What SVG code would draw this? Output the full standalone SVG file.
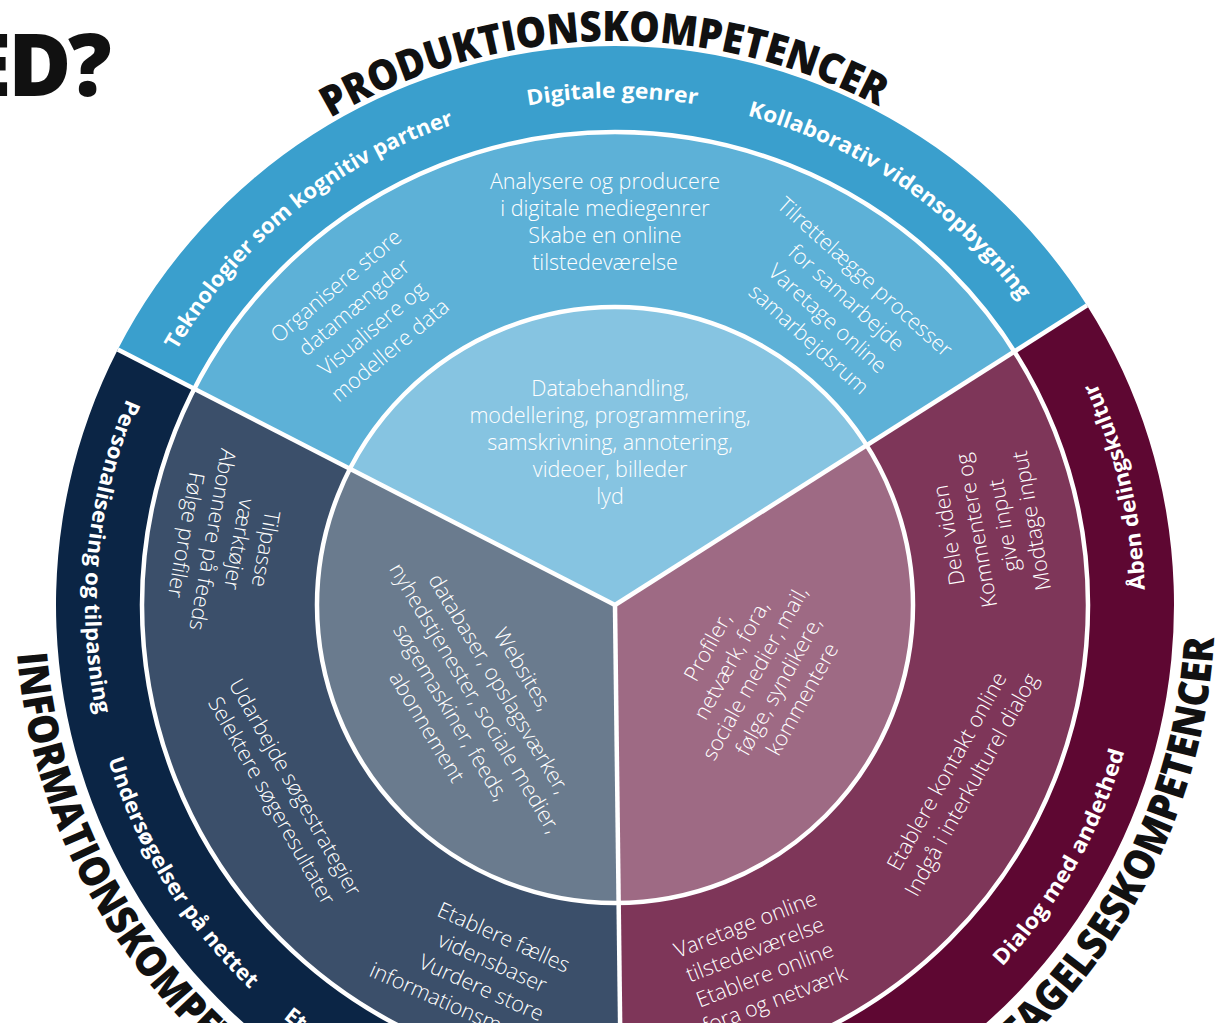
<svg xmlns="http://www.w3.org/2000/svg" xmlns:xlink="http://www.w3.org/1999/xlink" width="1230" height="1028" viewBox="0 0 1230 1028">
<defs>
<style>
.title{font-family:"Open Sans","DejaVu Sans",sans-serif;font-weight:800;font-size:42px;fill:#111;}
.band{font-family:"Open Sans","DejaVu Sans",sans-serif;font-weight:700;font-size:21.5px;fill:#fff;}
.body{font-family:"Open Sans","DejaVu Sans",sans-serif;font-weight:300;font-size:21.5px;fill:#fff;text-anchor:middle;}
.sep{stroke:#fff;stroke-width:4.5;fill:none;}
.p-out{fill:#3a9fcd}.p-mid{fill:#5db1d7}.p-in{fill:#86c4e1}
.i-out{fill:#0b2545}.i-mid{fill:#3b4f6a}.i-in{fill:#6a7b8e}
.d-out{fill:#5e0732}.d-mid{fill:#7e3659}.d-in{fill:#9e6a84}
</style>
<clipPath id="page"><rect x="0" y="0" width="1230" height="1023"/></clipPath>
<path id="arcTitleTop" d="M 51 605 A 564 564 0 0 1 1179 605"/>
<path id="arcTitleLow" d="M 229.33 145.37 A 600 600 0 1 0 1000.67 145.37"/>
<path id="arcBandTop" d="M 108 605 A 507 507 0 0 1 1122 605"/>
<path id="arcBandLow" d="M 274.32 198.99 A 530 530 0 1 0 955.68 198.99"/>
</defs>
<rect width="1230" height="1028" fill="#fff"/>
<g clip-path="url(#page)">
<text id="heading" x="-36" y="96" letter-spacing="-3" font-family="Open Sans, DejaVu Sans, sans-serif" font-weight="800" font-size="86" fill="#111">ED?</text>

<g id="sector-produktion">
  <g id="produktion-outer">
    <path class="p-out" d="M 117.81 349.51 A 559 559 0 0 1 1086.98 305.47 L 1014.37 351.55 A 473 473 0 0 0 194.30 388.82 Z"/>
    <text class="band"><textPath xlink:href="#arcBandTop" startOffset="449.5" text-anchor="middle" textLength="366" lengthAdjust="spacingAndGlyphs">Teknologier som kognitiv partner</textPath></text>
    <text class="band"><textPath xlink:href="#arcBandTop" startOffset="793.7" text-anchor="middle" textLength="170" lengthAdjust="spacingAndGlyphs">Digitale genrer</textPath></text>
    <text class="band"><textPath xlink:href="#arcBandTop" startOffset="1098.2" text-anchor="middle" textLength="336" lengthAdjust="spacingAndGlyphs">Kollaborativ vidensopbygning</textPath></text>
  </g>
  <g id="produktion-middle">
    <path class="p-mid" d="M 194.30 388.82 A 473 473 0 0 1 1014.37 351.55 L 866.61 445.32 A 298 298 0 0 0 349.95 468.80 Z"/>
    <text class="body" transform="translate(363 318) rotate(-40)"><tspan x="0" y="-34.5">Organisere store</tspan><tspan x="0" y="-6.5">datamængder</tspan><tspan x="0" y="21.5">Visualisere og</tspan><tspan x="0" y="49.5">modellere data</tspan></text>
    <text class="body"><tspan x="605" y="188.5">Analysere og producere</tspan><tspan x="605" y="215.5">i digitale mediegenrer</tspan><tspan x="605" y="242.5">Skabe en online</tspan><tspan x="605" y="269.5">tilstedeværelse</tspan></text>
    <text class="body" transform="translate(837 308) rotate(42)"><tspan x="0" y="-34.5">Tilrettelægge processer</tspan><tspan x="0" y="-6.5">for samarbejde</tspan><tspan x="0" y="21.5">Varetage online</tspan><tspan x="0" y="49.5">samarbejdsrum</tspan></text>
  </g>
  <g id="produktion-inner">
    <path class="p-in" d="M 615 605 L 349.95 468.80 A 298 298 0 0 1 866.61 445.32 Z"/>
    <text class="body"><tspan x="610" y="396">Databehandling,</tspan><tspan x="610" y="423">modellering, programmering,</tspan><tspan x="610" y="450">samskrivning, annotering,</tspan><tspan x="610" y="477">videoer, billeder</tspan><tspan x="610" y="504">lyd</tspan></text>
  </g>
</g>

<g id="sector-deltagelse">
  <g id="deltagelse-outer">
    <path class="d-out" d="M 1086.98 305.47 A 559 559 0 0 1 621.83 1163.96 L 620.78 1077.97 A 473 473 0 0 0 1014.37 351.55 Z"/>
    <text class="band"><textPath xlink:href="#arcBandLow" startOffset="2250.1" text-anchor="middle" textLength="215" lengthAdjust="spacingAndGlyphs">Åben delingskultur</textPath></text>
    <text class="band"><textPath xlink:href="#arcBandLow" startOffset="1854.2" text-anchor="middle" textLength="250" lengthAdjust="spacingAndGlyphs">Dialog med andethed</textPath></text>
  </g>
  <g id="deltagelse-middle">
    <path class="d-mid" d="M 1014.37 351.55 A 473 473 0 0 1 620.78 1077.97 L 618.64 902.98 A 298 298 0 0 0 866.61 445.32 Z"/>
    <text class="body" transform="translate(990 528) rotate(-100)"><tspan x="0" y="-34.5">Dele viden</tspan><tspan x="0" y="-6.5">Kommentere og</tspan><tspan x="0" y="21.5">give input</tspan><tspan x="0" y="49.5">Modtage input</tspan></text>
    <text class="body" transform="translate(959 778) rotate(-61)"><tspan x="0" y="-6.5">Etablere kontakt online</tspan><tspan x="0" y="21.5">Indgå i interkulturel dialog</tspan></text>
    <text class="body" transform="translate(760 962) rotate(-21)"><tspan x="0" y="-33">Varetage online</tspan><tspan x="0" y="-6">tilstedeværelse</tspan><tspan x="0" y="21">Etablere online</tspan><tspan x="0" y="48">fora og netværk</tspan></text>
  </g>
  <g id="deltagelse-inner">
    <path class="d-in" d="M 615 605 L 866.61 445.32 A 298 298 0 0 1 618.64 902.98 Z"/>
    <text class="body" transform="translate(755 673) rotate(-61)"><tspan x="0" y="-46.5">Profiler,</tspan><tspan x="0" y="-19.5">netværk, fora,</tspan><tspan x="0" y="7.5">sociale medier, mail,</tspan><tspan x="0" y="34.5">følge, syndikere,</tspan><tspan x="0" y="61.5">kommentere</tspan></text>
  </g>
</g>

<g id="sector-information">
  <g id="information-outer">
    <path class="i-out" d="M 621.83 1163.96 A 559 559 0 0 1 117.81 349.51 L 194.30 388.82 A 473 473 0 0 0 620.78 1077.97 Z"/>
    <text class="band"><textPath xlink:href="#arcBandLow" startOffset="411.6" text-anchor="middle" textLength="322" lengthAdjust="spacingAndGlyphs">Personalisering og tilpasning</textPath></text>
    <text class="band"><textPath xlink:href="#arcBandLow" startOffset="755.7" text-anchor="middle" textLength="273" lengthAdjust="spacingAndGlyphs">Undersøgelser på nettet</textPath></text>
    <text class="band"><textPath xlink:href="#arcBandLow" startOffset="936.1">Et</textPath></text>
  </g>
  <g id="information-middle">
    <path class="i-mid" d="M 620.78 1077.97 A 473 473 0 0 1 194.30 388.82 L 349.95 468.80 A 298 298 0 0 0 618.64 902.98 Z"/>
    <text class="body" transform="translate(226 542) rotate(100)"><tspan x="0" y="-33">Tilpasse</tspan><tspan x="0" y="-6">værktøjer</tspan><tspan x="0" y="21">Abonnere på feeds</tspan><tspan x="0" y="48">Følge profiler</tspan></text>
    <text class="body" transform="translate(283.5 794) rotate(60.5)"><tspan x="0" y="-6">Udarbejde søgestrategier</tspan><tspan x="0" y="21">Selektere søgeresultater</tspan></text>
    <text class="body" transform="translate(487 975) rotate(24)"><tspan x="0" y="-33.75">Etablere fælles</tspan><tspan x="0" y="-6.25">vidensbaser</tspan><tspan x="0" y="21.25">Vurdere store</tspan><tspan x="0" y="48.75">informationsmængder</tspan></text>
  </g>
  <g id="information-inner">
    <path class="i-in" d="M 615 605 L 618.64 902.98 A 298 298 0 0 1 349.95 468.80 Z"/>
    <text class="body" transform="translate(475 698) rotate(59)"><tspan x="0" y="-48.5">Websites,</tspan><tspan x="0" y="-20.5">databaser, opslagsværker,</tspan><tspan x="0" y="7.5">nyhedstjenester, sociale medier,</tspan><tspan x="0" y="35.5">søgemaskiner, feeds,</tspan><tspan x="0" y="63.5">abonnement</tspan></text>
  </g>
</g>

<g id="separators">
  <circle class="sep" cx="615" cy="605" r="298"/>
  <circle class="sep" cx="615" cy="605" r="473"/>
  <line class="sep" x1="615" y1="605" x2="117.81" y2="349.51"/>
  <line class="sep" x1="615" y1="605" x2="1086.98" y2="305.47"/>
  <line class="sep" x1="615" y1="605" x2="621.83" y2="1163.96"/>
</g>

<g id="titles">
  <text class="title"><textPath xlink:href="#arcTitleTop" startOffset="874" text-anchor="middle" textLength="573" lengthAdjust="spacingAndGlyphs">PRODUKTIONSKOMPETENCER</textPath></text>
  <text class="title"><textPath xlink:href="#arcTitleLow" startOffset="865" text-anchor="middle" textLength="586" lengthAdjust="spacingAndGlyphs">INFORMATIONSKOMPETENCER</textPath></text>
  <text class="title"><textPath xlink:href="#arcTitleLow" startOffset="2105" text-anchor="middle" textLength="541" lengthAdjust="spacingAndGlyphs">DELTAGELSESKOMPETENCER</textPath></text>
</g>
</g>
</svg>
